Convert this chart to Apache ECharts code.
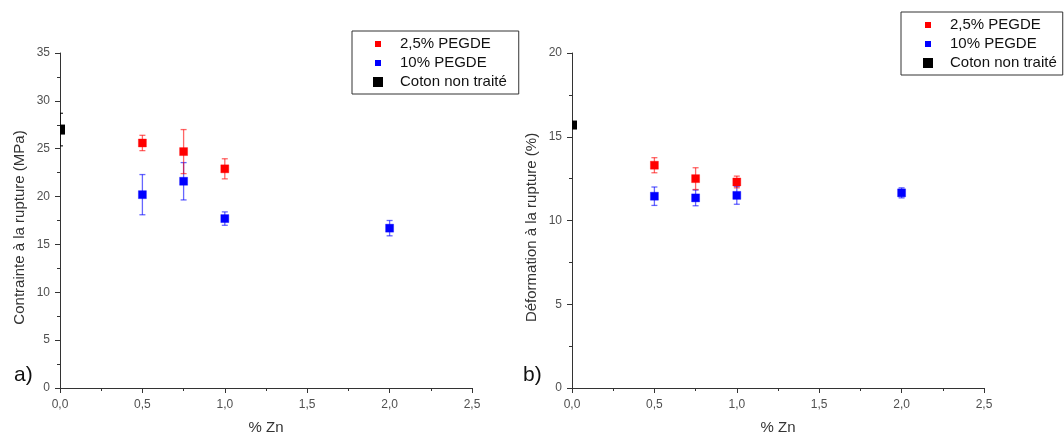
<!DOCTYPE html>
<html>
<head>
<meta charset="utf-8">
<script src="https://cdn.jsdelivr.net/npm/echarts@6/dist/echarts.min.js"></script>
<style>
html,body{margin:0;padding:0;background:#fff;}
#c{width:1064px;height:434px;}
</style>
</head>
<body>
<div id="c"></div>
<script>
// ---- data ----
const xLabels = ['0,0','0,5','1,0','1,5','2,0','2,5'];
const znPeg25 = [0.5, 0.75, 1.0];
const znPeg10 = [0.5, 0.75, 1.0, 2.0];
const znRaw = [0];

// a) Contrainte à la rupture (MPa)
const stressPeg25 = [25.6, 24.7, 22.9];
const stressPeg25Err = [0.8, 2.3, 1.05];
const stressPeg10 = [20.2, 21.6, 17.7, 16.7];
const stressPeg10Err = [2.1, 1.95, 0.7, 0.8];
const stressRaw = [27.0];
const stressRawErr = [1.7];

// b) Déformation à la rupture (%)
const strainPeg25 = [13.3, 12.5, 12.3];
const strainPeg25Err = [0.45, 0.65, 0.35];
const strainPeg10 = [11.45, 11.35, 11.5, 11.65];
const strainPeg10Err = [0.55, 0.47, 0.53, 0.3];
const strainRaw = [15.7];
const strainRawErr = [0];

const names = ['2,5% PEGDE', '10% PEGDE', 'Coton non traité'];

// ---- helpers ----
function toData(xs, ys, es) { return xs.map((x, i) => [x, ys[i], es[i]]); }

function makeRender(fill, barColor, w, h) {
  return function (params, api) {
    const x = api.value(0), y = api.value(1), e = api.value(2);
    const c = api.coord([x, y]);
    const t = api.coord([x, y + e]);
    const b = api.coord([x, y - e]);
    const cap = 3;
    const children = [];
    if (e > 0) {
      const ls = { stroke: barColor, lineWidth: 1.3 };
      children.push({ type: 'line', shape: { x1: c[0], y1: t[1], x2: c[0], y2: b[1] }, style: ls });
      children.push({ type: 'line', shape: { x1: c[0] - cap, y1: t[1], x2: c[0] + cap, y2: t[1] }, style: ls });
      children.push({ type: 'line', shape: { x1: c[0] - cap, y1: b[1], x2: c[0] + cap, y2: b[1] }, style: ls });
    }
    children.push({ type: 'rect', shape: { x: c[0] - w / 2, y: c[1] - h / 2, width: w, height: h },
      style: { fill: fill, stroke: fill === '#000' ? null : fill.replace('1)', '0.35)'), lineWidth: 1 } });
    return { type: 'group', children: children };
  };
}

function series(name, idx, data, fill, bar, w, h) {
  return {
    type: 'custom', name: name, xAxisIndex: idx, yAxisIndex: idx, clip: true,
    itemStyle: { color: fill },
    renderItem: makeRender(fill, bar, w, h),
    encode: { x: 0, y: 1 },
    data: data
  };
}

const RED = 'rgba(255,0,0,1)', BLUE = 'rgba(0,0,255,1)';
const RED_BAR = 'rgba(255,0,0,0.6)', BLUE_BAR = 'rgba(0,0,255,0.6)';

const smallSq = 'path://M0,0L0.01,0Z M2,2L8,2L8,8L2,8Z M10,10L9.99,10Z';
const bigSq = 'path://M0,0L10,0L10,10L0,10Z';

const font = 'Liberation Sans, Arial, sans-serif';

function legend(left, top, padRight, padLeft) {
  return {
    orient: 'vertical', left: left, top: top,
    padding: [5, padRight, 4, padLeft],
    itemWidth: 34, itemHeight: 10, itemGap: 3,
    borderColor: '#333', borderWidth: 1, backgroundColor: '#fff',
    textStyle: { fontSize: 15, color: '#111', lineHeight: 16, fontFamily: font },
    selectedMode: false,
    data: [
      { name: names[0], icon: smallSq, itemStyle: { color: '#f00' } },
      { name: names[1], icon: smallSq, itemStyle: { color: '#00f' } },
      { name: names[2], icon: bigSq, itemStyle: { color: '#000' } }
    ]
  };
}

function xAxis(idx) {
  return {
    type: 'value', gridIndex: idx, min: 0, max: 2.5, interval: 0.5,
    name: '% Zn', nameLocation: 'middle', nameGap: 32,
    nameTextStyle: { fontSize: 15, color: '#333', fontFamily: font },
    axisLine: { onZero: false, lineStyle: { color: '#333', width: 1 } },
    axisTick: { show: true, inside: false, length: 5, lineStyle: { color: '#333' } },
    minorTick: { show: true, splitNumber: 2, length: 3, lineStyle: { color: '#333' } },
    splitLine: { show: false }, minorSplitLine: { show: false },
    axisLabel: { margin: 11, fontSize: 12, color: '#505050', fontFamily: font,
      formatter: v => xLabels[Math.round(v / 0.5)] }
  };
}

function yAxis(idx, max, name) {
  return {
    type: 'value', gridIndex: idx, min: 0, max: max, interval: 5,
    name: name, nameLocation: 'middle', nameGap: 33,
    nameTextStyle: { fontSize: 15, color: '#333', fontFamily: font, padding: [0, 14, 0, 0] },
    axisLine: { show: true, onZero: false, lineStyle: { color: '#333', width: 1 } },
    axisTick: { show: true, inside: false, length: 5, lineStyle: { color: '#333' } },
    minorTick: { show: true, splitNumber: 2, length: 3, lineStyle: { color: '#333' } },
    splitLine: { show: false }, minorSplitLine: { show: false },
    axisLabel: { margin: 10, fontSize: 12, color: '#505050', fontFamily: font }
  };
}

const chart = echarts.init(document.getElementById('c'), null, { renderer: 'canvas' });
chart.setOption({
  animation: false,
  backgroundColor: '#fff',
  grid: [
    { left: 60, top: 53, width: 412, height: 335, containLabel: false, outerBoundsMode: 'none' },
    { left: 572, top: 53, width: 412, height: 335, containLabel: false, outerBoundsMode: 'none' }
  ],
  xAxis: [xAxis(0), xAxis(1)],
  yAxis: [yAxis(0, 35, 'Contrainte à la rupture (MPa)'), yAxis(1, 20, 'Déformation à la rupture (%)')],
  legend: [legend(352, 31, 12, 21), legend(901, 12, 6, 22)],
  graphic: [
    { type: 'text', left: 14, top: 365, style: { text: 'a)', fontSize: 21, fill: '#111', fontFamily: font } },
    { type: 'text', left: 523, top: 365, style: { text: 'b)', fontSize: 21, fill: '#111', fontFamily: font } }
  ],
  series: [
    series(names[1], 0, toData(znPeg10, stressPeg10, stressPeg10Err), BLUE, BLUE_BAR, 8, 8),
    series(names[0], 0, toData(znPeg25, stressPeg25, stressPeg25Err), RED, RED_BAR, 8, 8),
    series(names[2], 0, toData(znRaw, stressRaw, stressRawErr), '#000', 'rgba(0,0,0,0.8)', 10, 10),
    series(names[1], 1, toData(znPeg10, strainPeg10, strainPeg10Err), BLUE, BLUE_BAR, 8, 8),
    series(names[0], 1, toData(znPeg25, strainPeg25, strainPeg25Err), RED, RED_BAR, 8, 8),
    series(names[2], 1, toData(znRaw, strainRaw, strainRawErr), '#000', 'rgba(0,0,0,0.8)', 10, 9)
  ]
});
</script>
</body>
</html>
